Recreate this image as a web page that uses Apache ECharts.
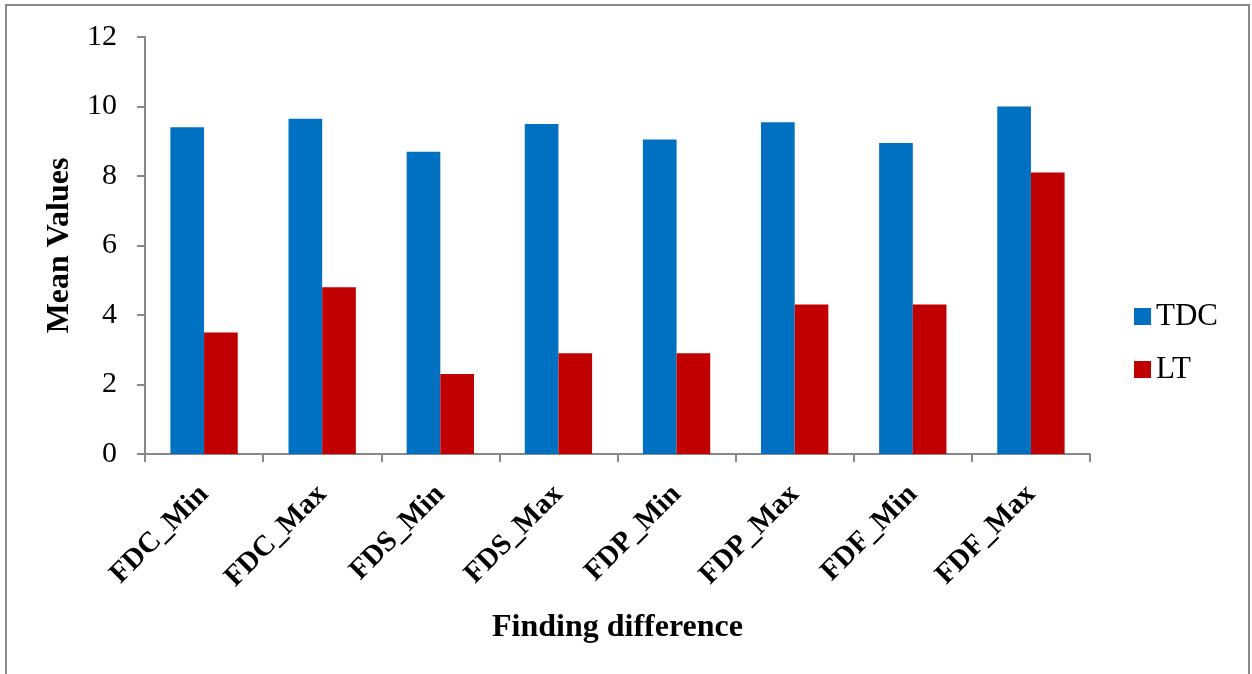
<!DOCTYPE html>
<html>
<head>
<meta charset="utf-8">
<style>
  html, body { margin: 0; padding: 0; background: #ffffff; }
  #chart { width: 1252px; height: 674px; }
</style>
<script src="https://cdn.jsdelivr.net/npm/echarts@6/dist/echarts.min.js"></script>
</head>
<body>
<div id="chart"></div>
<script>
// Mean values per finding-difference measure
const categories = ['FDC_Min', 'FDC_Max', 'FDS_Min', 'FDS_Max', 'FDP_Min', 'FDP_Max', 'FDF_Min', 'FDF_Max'];
const tdcValues = [9.4, 9.65, 8.7, 9.5, 9.05, 9.55, 8.95, 10.0];
const ltValues = [3.5, 4.8, 2.3, 2.9, 2.9, 4.3, 4.3, 8.1];
const seriesNames = ['TDC', 'LT'];

const serif = '"Liberation Serif", "DejaVu Serif", serif';
const axisGrey = '#888888';

const chart = echarts.init(document.getElementById('chart'), null, { renderer: 'canvas' });

chart.setOption({
  backgroundColor: '#ffffff',
  animation: false,
  graphic: [{
    type: 'rect',
    silent: true,
    shape: { x: 6, y: 5, width: 1243, height: 720 },
    style: { fill: 'none', stroke: '#8a8a8a', lineWidth: 2 }
  }],
  grid: { left: 145, top: 37, right: 162, bottom: 220, containLabel: false },
  legend: {
    orient: 'vertical',
    left: 1134,
    top: 301,
    padding: 0,
    itemWidth: 17,
    itemHeight: 17,
    itemGap: 22,
    icon: 'rect',
    data: seriesNames,
    textStyle: { fontFamily: serif, fontSize: 31, color: '#000000', padding: [0, 0, 0, 0] }
  },
  xAxis: {
    type: 'category',
    data: categories,
    name: 'Finding difference',
    nameLocation: 'middle',
    nameGap: 158,
    nameTextStyle: { fontFamily: serif, fontSize: 32, fontWeight: 'bold', color: '#000000' },
    axisLine: { lineStyle: { color: axisGrey, width: 2 } },
    axisTick: { show: true, alignWithLabel: false, length: 8, lineStyle: { color: axisGrey, width: 2 } },
    axisLabel: {
      rotate: 45,
      margin: 36,
      interval: 0,
      fontFamily: serif,
      fontSize: 29,
      fontWeight: 'bold',
      color: '#000000'
    },
    splitLine: { show: false }
  },
  yAxis: {
    type: 'value',
    min: 0,
    max: 12,
    interval: 2,
    name: 'Mean Values',
    nameLocation: 'middle',
    nameGap: 69,
    nameTextStyle: { fontFamily: serif, fontSize: 32, fontWeight: 'bold', color: '#000000' },
    axisLine: { show: true, lineStyle: { color: axisGrey, width: 2 } },
    axisTick: { show: true, length: 8, lineStyle: { color: axisGrey, width: 2 } },
    axisLabel: { fontFamily: serif, fontSize: 30, color: '#000000', margin: 28 },
    splitLine: { show: false }
  },
  series: [
    {
      name: seriesNames[0],
      type: 'bar',
      data: tdcValues,
      barGap: '0%',
      barCategoryGap: '43%',
      itemStyle: { color: '#0070C0' }
    },
    {
      name: seriesNames[1],
      type: 'bar',
      data: ltValues,
      barGap: '0%',
      barCategoryGap: '43%',
      itemStyle: { color: '#C00000' }
    }
  ]
});
</script>
</body>
</html>
